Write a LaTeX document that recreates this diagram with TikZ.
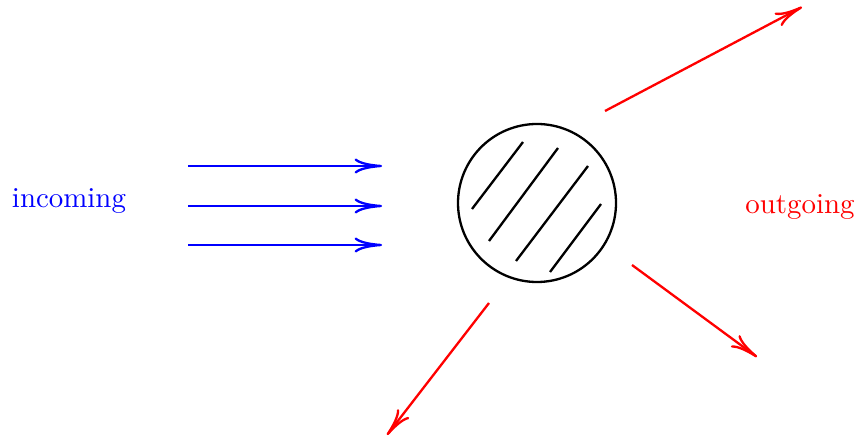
\documentclass[tikz,border=0pt]{standalone}
\usetikzlibrary{arrows.meta}
\begin{document}
\begin{tikzpicture}[x=0.346pt,y=-0.346pt,
  arr/.style={thick,-{To[length=9.5pt,width=5.2pt]}},
  hatch/.style={thick},
  lab/.style={font=\normalsize, inner sep=0pt}]
\useasboundingbox (0,0) rectangle (858,439);
% labels
\node[lab,text=blue] (in) at (69,201) {incoming};
\node[lab,text=red] (out) at (800,207) {outgoing};
% blob
\node[draw,thick,circle,minimum size=158*0.346pt,inner sep=0pt] (blob) at (537,203) {};
\coordinate (h1a) at (472,209); \coordinate (h1b) at (523,142);
\coordinate (h2a) at (489,241); \coordinate (h2b) at (558,148);
\coordinate (h3a) at (516,261); \coordinate (h3b) at (588,166);
\coordinate (h4a) at (550,272); \coordinate (h4b) at (601,204);
\draw[hatch] (h1a) -- (h1b);
\draw[hatch] (h2a) -- (h2b);
\draw[hatch] (h3a) -- (h3b);
\draw[hatch] (h4a) -- (h4b);
% incoming
\coordinate (i1s) at (188,166); \coordinate (i1e) at (382,166);
\coordinate (i2s) at (188,206); \coordinate (i2e) at (382,206);
\coordinate (i3s) at (188,245); \coordinate (i3e) at (382,245);
\draw[arr,blue] (i1s) -- (i1e);
\draw[arr,blue] (i2s) -- (i2e);
\draw[arr,blue] (i3s) -- (i3e);
% outgoing
\coordinate (o1s) at (605,111); \coordinate (o1e) at (802,7);
\coordinate (o2s) at (632,265); \coordinate (o2e) at (757,357);
\coordinate (o3s) at (489,303); \coordinate (o3e) at (387,435);
\draw[arr,red] (o1s) -- (o1e);
\draw[arr,red] (o2s) -- (o2e);
\draw[arr,red] (o3s) -- (o3e);
\end{tikzpicture}
\end{document}
